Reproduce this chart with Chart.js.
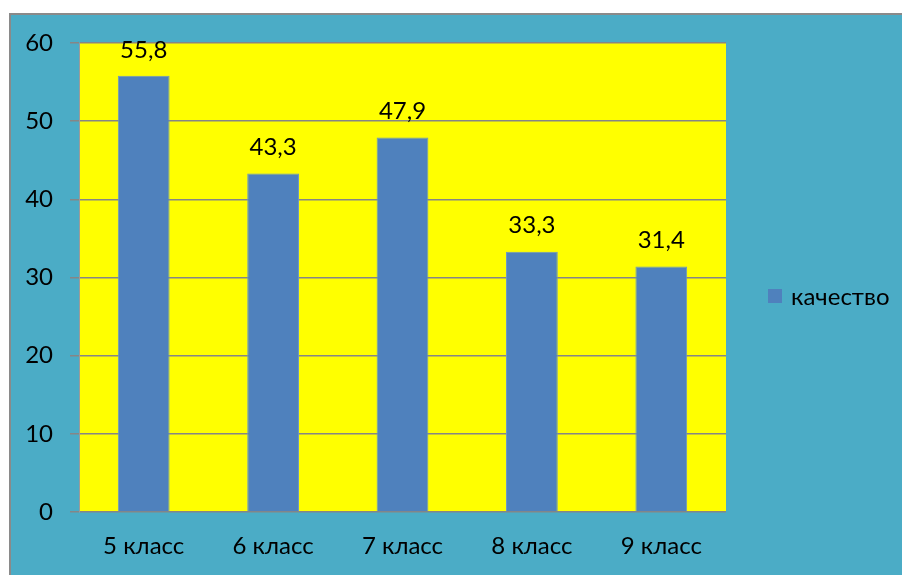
<!DOCTYPE html>
<html>
<head>
<meta charset="utf-8">
<script src="https://cdn.jsdelivr.net/npm/chart.js@4.4.1/dist/chart.umd.min.js"></script>
<style>
  html, body { margin: 0; padding: 0; background: #ffffff; }
  #wrap { width: 902px; height: 575px; position: relative; }
</style>
</head>
<body>
<div id="wrap"><canvas id="myChart"></canvas></div>
<script>
const classes = ['5 класс', '6 класс', '7 класс', '8 класс', '9 класс'];
const quality = [55.8, 43.3, 47.9, 33.3, 31.4];
const seriesName = 'качество';

const fontFamily = 'Lato, "Open Sans", sans-serif';

// teal background, yellow plot area
const backPlugin = {
  id: 'backPlugin',
  beforeDraw(chart) {
    const c = chart.ctx;
    const area = chart.chartArea;
    c.save();
    c.fillStyle = '#ffffff';
    c.fillRect(0, 0, chart.width, chart.height);
    c.fillStyle = '#4bacc6';
    c.fillRect(9, 13, chart.width - 9, chart.height - 13);
    c.strokeStyle = '#8a8a8a';
    c.lineWidth = 2;
    c.beginPath();
    c.moveTo(10, chart.height);
    c.lineTo(10, 14);
    c.lineTo(chart.width, 14);
    c.stroke();
    c.fillStyle = '#ffff00';
    c.fillRect(area.left, area.top, area.right - area.left, area.bottom - area.top);
    c.restore();
  }
};

// value labels over bars + legend at the right
const labelPlugin = {
  id: 'labelPlugin',
  afterDatasetsDraw(chart) {
    const c = chart.ctx;
    const meta = chart.getDatasetMeta(0);
    c.save();
    c.fillStyle = '#000000';
    c.font = '24px ' + fontFamily;
    c.textAlign = 'center';
    c.textBaseline = 'middle';
    meta.data.forEach((bar, i) => {
      c.fillText(String(quality[i]).replace('.', ','), bar.x, bar.y - 26);
    });
    c.restore();
  },
  afterDraw(chart) {
    const c = chart.ctx;
    c.save();
    c.fillStyle = '#4f81bd';
    c.fillRect(768, 289, 14, 14);
    c.fillStyle = '#000000';
    c.font = '24px ' + fontFamily;
    c.textAlign = 'left';
    c.textBaseline = 'middle';
    c.fillText(seriesName, 791, 297);
    c.restore();
  }
};

const ctx = document.getElementById('myChart');

new Chart(ctx, {
  type: 'bar',
  data: {
    labels: classes,
    datasets: [{
      label: seriesName,
      data: quality,
      backgroundColor: '#4f81bd',
      borderColor: '#6b95c8',
      borderWidth: 1,
      barPercentage: 0.4,
      categoryPercentage: 1
    }]
  },
  options: {
    responsive: true,
    maintainAspectRatio: false,
    animation: false,
    layout: {
      padding: { left: 9, top: 43, right: 176, bottom: 0 }
    },
    plugins: {
      legend: { display: false },
      tooltip: { enabled: false }
    },
    scales: {
      y: {
        min: 0,
        max: 60,
        ticks: {
          stepSize: 10,
          color: '#000000',
          font: { family: fontFamily, size: 24 },
          padding: 17
        },
        grid: {
          color: '#868686',
          lineWidth: 1.5,
          tickLength: 9,
          drawTicks: true
        },
        border: { display: true, color: '#9a9a9a', width: 1 },
        afterFit(axis) { axis.width = 70; }
      },
      x: {
        ticks: {
          color: '#000000',
          font: { family: fontFamily, size: 24 },
          padding: 20,
          maxRotation: 0
        },
        grid: { display: false, drawTicks: false },
        border: { display: false },
        afterFit(axis) { axis.height = 63; }
      }
    }
  },
  plugins: [backPlugin, labelPlugin]
});
</script>
</body>
</html>
